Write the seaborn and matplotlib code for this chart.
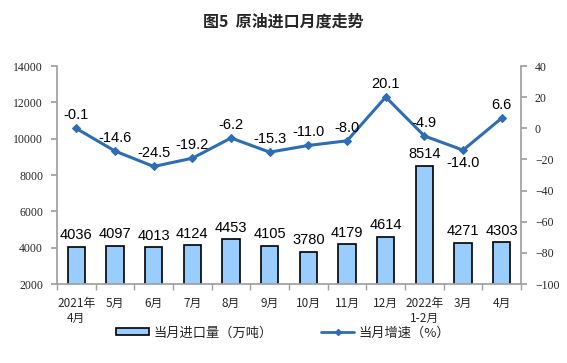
import matplotlib
matplotlib.use("Agg")
import matplotlib.pyplot as plt
import seaborn as sns
import pandas as pd
import numpy as np

categories = ["2021年\n4月", "5月", "6月", "7月", "8月", "9月", "10月", "11月", "12月", "2022年\n1-2月", "3月", "4月"]
volume = [4036, 4097, 4013, 4124, 4453, 4105, 3780, 4179, 4614, 8514, 4271, 4303]
growth = [-0.1, -14.6, -24.5, -19.2, -6.2, -15.3, -11.0, -8.0, 20.1, -4.9, -14.0, 6.6]

sns.set_theme(style="white")
plt.rcParams['font.family'] = ['Noto Sans CJK SC', 'DejaVu Sans']

df = pd.DataFrame({"month": categories, "volume": volume, "growth": growth})

fig = plt.figure(figsize=(5.67, 3.63), dpi=100)
ax = fig.add_axes([0.1005, 0.2176, 0.8185, 0.6004])

sns.barplot(data=df, x="month", y="volume", ax=ax, color="#99CCFF", width=0.45,
            edgecolor="black", linewidth=1.2, saturation=1)
ax.set_ylim(2000, 14000)
ax.set_yticks(range(2000, 14001, 2000))
ax.set_xlim(-0.5, len(categories) - 0.5)
ax.set_xlabel("")
ax.set_ylabel("")
for i, v in enumerate(volume):
    ax.text(i, v + 250, str(v), ha="center", va="bottom", fontsize=10.5,
            family=["Liberation Sans"], color="black")

ax2 = ax.twinx()
sns.lineplot(x=np.arange(len(categories)), y=growth, ax=ax2, color="#2E6DB4",
             marker="D", markersize=4.5, linewidth=2.2, markeredgecolor="#2E6DB4")
ax2.set_ylim(-100, 40)
ax2.set_yticks(range(-100, 41, 20))
for i, g in enumerate(growth):
    if i == 10:
        ax2.text(i, g - 4, f"{g:.1f}", ha="center", va="top", fontsize=10.5,
                 family=["Liberation Sans"], color="black")
    else:
        ax2.text(i, g + 4, f"{g:.1f}", ha="center", va="bottom", fontsize=10.5,
                 family=["Liberation Sans"], color="black")

for a in (ax, ax2):
    a.spines["top"].set_visible(False)
    a.spines["left"].set_color("#A0A0A0")
    a.spines["right"].set_color("#A0A0A0")
    a.spines["bottom"].set_color("#A0A0A0")
ax.spines["right"].set_visible(False)
ax2.spines["left"].set_visible(False)
ax2.spines["bottom"].set_visible(False)

ax.tick_params(axis="y", which="both", left=True, length=4, color="#A0A0A0", labelsize=8.5, pad=6)
ax2.tick_params(axis="y", which="both", right=True, length=4, color="#A0A0A0", labelsize=8.5, pad=6)
for lab in ax.get_yticklabels() + ax2.get_yticklabels():
    lab.set_family(["Liberation Serif"])
ax.set_xticks(np.arange(len(categories)))
ax.set_xticklabels(categories, fontsize=8.5, linespacing=1.2)
ax.tick_params(axis="x", which="major", bottom=False, pad=3)
ax.set_xticks(np.arange(-0.5, len(categories), 1), minor=True)
ax.tick_params(axis="x", which="minor", bottom=True, length=4, color="#A0A0A0")

fig.text(0.5, 0.94, "图5  原油进口月度走势", ha="center", va="center", fontsize=11.5, fontweight="bold")

from matplotlib.patches import Patch
from matplotlib.lines import Line2D
h1 = Patch(facecolor="#99CCFF", edgecolor="black", linewidth=1.2)
h2 = Line2D([0], [0], color="#2E6DB4", marker="D", markersize=3, linewidth=2)
fig.legend([h1], ["当月进口量（万吨）"], loc="center", bbox_to_anchor=(0.343, 0.083),
           frameon=False, fontsize=9.5, handlelength=2.5, handleheight=0.5, handletextpad=0.3)
fig.legend([h2], ["当月增速（%）"], loc="center", bbox_to_anchor=(0.68, 0.083),
           frameon=False, fontsize=9.5, handlelength=2.5, handletextpad=0.3)

fig.savefig("out.png", dpi=100)
